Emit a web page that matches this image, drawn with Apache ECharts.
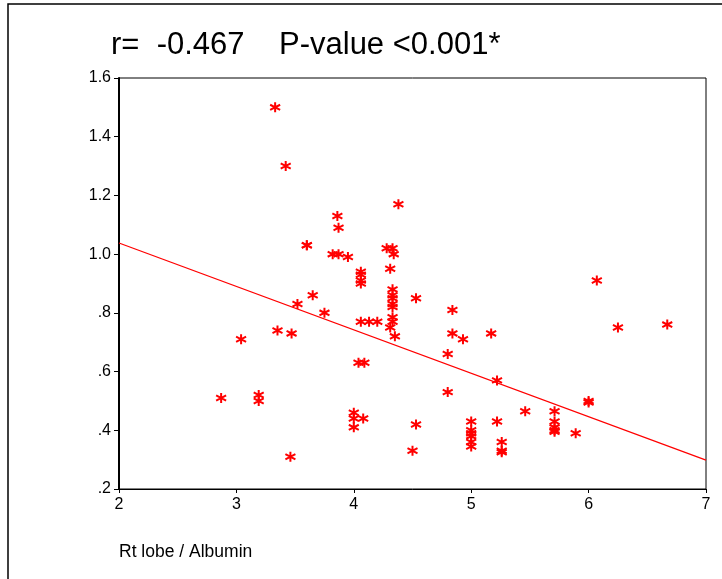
<!DOCTYPE html>
<html><head><meta charset="utf-8">
<script src="https://cdn.jsdelivr.net/npm/echarts@6/dist/echarts.min.js"></script>
<style>html,body{margin:0;padding:0;background:#fff}#c{width:722px;height:579px}</style>
</head><body><div id="c"></div>
<script>
var titleText = 'r=  -0.467    P-value <0.001*';
var xAxisName = 'Rt lobe / Albumin';
var xTicks = [2, 3, 4, 5, 6, 7];
var yTicks = [0.2, 0.4, 0.6, 0.8, 1.0, 1.2, 1.4, 1.6];
var xVals = [3.33,3.42,2.87,3.04,3.19,3.19,3.46,3.35,3.47,3.52,3.60,3.60,3.65,3.75,3.86,3.87,3.82,3.87,3.95,
  4.06,4.06,4.06,4.06,4.06,4.13,4.20,4.28,4.33,4.34,4.31,4.33,4.33,4.33,4.33,4.33,4.33,4.33,4.31,4.35,4.38,
  4.53,4.84,4.84,4.93,5.17,4.80,4.04,4.09,5.22,4.80,4.00,4.00,4.00,4.08,4.53,4.50,
  5.00,5.00,5.00,5.00,5.00,5.00,5.22,6.07,6.25,6.67,5.26,5.26,5.26,5.46,5.71,5.71,5.71,5.71,5.71,5.89,6.00,6.00];
var yVals = [1.50,1.30,0.51,0.71,0.52,0.50,0.31,0.74,0.73,0.83,1.03,1.03,0.86,0.80,1.13,1.09,1.00,1.00,0.99,
  0.94,0.93,0.91,0.90,0.77,0.77,0.77,1.02,1.02,1.00,0.95,0.88,0.86,0.85,0.83,0.82,0.785,0.77,0.75,0.72,1.17,
  0.85,0.81,0.73,0.71,0.73,0.66,0.63,0.63,0.57,0.53,0.46,0.44,0.41,0.44,0.42,0.33,
  0.43,0.40,0.39,0.38,0.36,0.345,0.43,0.91,0.75,0.76,0.36,0.33,0.325,0.465,0.465,0.43,0.41,0.40,0.395,0.39,0.50,0.495];
var fitX = [2, 7];
var fitY = [1.038, 0.298];

var pts = xVals.map(function(x, i){ return [x, yVals[i]]; });
var fit = fitX.map(function(x, i){ return [x, fitY[i]]; });
var chart = echarts.init(document.getElementById('c'), null, {renderer:'canvas'});
var FONT = '"Liberation Sans", Arial, sans-serif';
var star = 'path://M0,-5L0,5M-4.6,-2.6L4.6,2.6M-4.6,2.6L4.6,-2.6';
chart.setOption({
  animation: false,
  backgroundColor: '#fff',
  title: {text: titleText, left: 106, top: 25, textStyle: {fontFamily: FONT, fontSize: 31, fontWeight: 'normal', color: '#000'}},
  graphic: [
    {type: 'rect', shape: {x: 8, y: 4, width: 800, height: 700}, style: {fill: 'none', stroke: '#000', lineWidth: 1.5}, silent: true, z: -1},
    {type: 'text', left: 119, top: 543, style: {text: xAxisName, font: '17.5px ' + FONT, fill: '#000'}}
  ],
  grid: {left: 119, top: 78, width: 587, height: 411, show: true, borderColor: '#000', borderWidth: 1, backgroundColor: 'transparent'},
  xAxis: {type: 'value', min: xTicks[0], max: xTicks[xTicks.length-1], interval: 1,
    axisLine: {show: true, onZero: false, lineStyle: {color: '#000', width: 1}},
    axisTick: {show: true, length: 4, lineStyle: {color: '#000'}},
    splitLine: {show: false},
    axisLabel: {color: '#000', fontFamily: FONT, fontSize: 16, margin: 8}},
  yAxis: {type: 'value', min: yTicks[0], max: yTicks[yTicks.length-1], interval: 0.2,
    axisLine: {show: true, onZero: false, lineStyle: {color: '#000', width: 2}},
    axisTick: {show: true, length: 5, lineStyle: {color: '#000'}},
    splitLine: {show: false},
    axisLabel: {color: '#000', fontFamily: FONT, fontSize: 16, margin: 8,
      formatter: function(v){ var s = (Math.round(v*10)/10).toFixed(1); return v < 1 ? s.replace(/^0/, '') : s; }}},
  series: [
    {type: 'line', data: fit, showSymbol: false, symbol: 'none', lineStyle: {color: '#ff0000', width: 1.3}, z: 2},
    {type: 'scatter', data: pts, symbol: star, symbolSize: [10, 10],
      itemStyle: {color: '#ff0000', borderColor: '#ff0000', borderWidth: 2, opacity: 1}, z: 3}
  ]
});
</script></body></html>
